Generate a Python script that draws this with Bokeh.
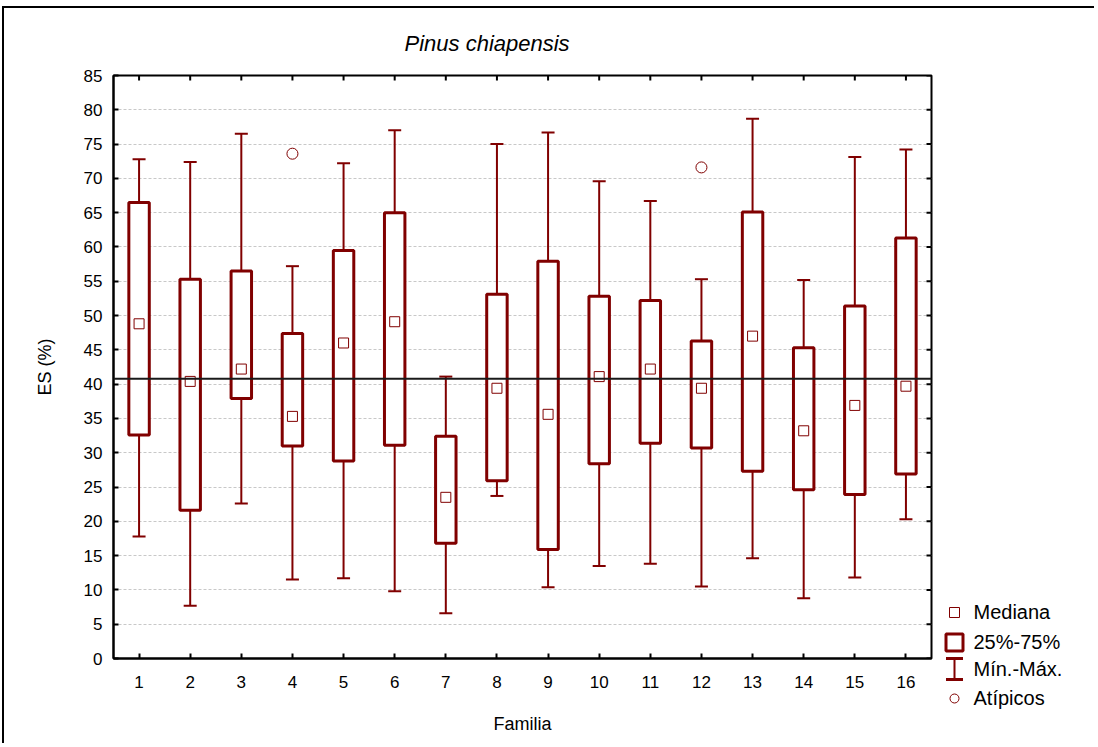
import math
from bokeh.plotting import figure
from bokeh.models import Range1d, FixedTicker, ColumnDataSource, Span
from bokeh.layouts import row, column
from bokeh.embed import file_html
from bokeh.resources import INLINE
from bokeh.core.properties import value

# ---------------- data ----------------
familias = list(range(1, 17))
maximo = [72.8, 72.4, 76.5, 57.2, 72.2, 77.0, 41.1, 75.0, 76.7, 69.6, 66.7, 55.3, 78.7, 55.2, 73.1, 74.2]
q3 = [66.5, 55.3, 56.5, 47.4, 59.5, 65.0, 32.4, 53.1, 57.9, 52.8, 52.2, 46.3, 65.1, 45.3, 51.4, 61.3]
mediana = [48.8, 40.4, 42.2, 35.3, 46.0, 49.1, 23.5, 39.4, 35.6, 41.1, 42.2, 39.4, 47.0, 33.2, 36.9, 39.7]
q1 = [32.6, 21.6, 37.9, 31.0, 28.8, 31.1, 16.8, 25.9, 15.9, 28.4, 31.4, 30.7, 27.3, 24.6, 23.9, 26.9]
minimo = [17.8, 7.7, 22.6, 11.5, 11.7, 9.8, 6.6, 23.7, 10.4, 13.5, 13.8, 10.5, 14.6, 8.8, 11.8, 20.3]
atipicos_familia = [4, 12]
atipicos_valor = [73.6, 71.6]
media_general = 40.8
y_ticks = list(range(0, 90, 5))
legend_labels = ["Mediana", "25%-75%", "Mín.-Máx.", "Atípicos"]

RED = "#800000"
FONT = "Liberation Sans"
X0, X1 = 0.5, 16.5
Y0, Y1 = 0, 85

# ---------------- main plot ----------------
P_W, P_H = 930, 735
p = figure(width=P_W, height=P_H, x_range=Range1d(X0, X1), y_range=Range1d(Y0, Y1),
           output_backend="svg", toolbar_location=None,
           min_border_left=109, min_border_right=3, min_border_top=67, min_border_bottom=85,
           title="Pinus chiapensis")
p.background_fill_color = "white"
p.border_fill_color = "white"
p.outline_line_color = "black"
p.outline_line_width = 2

p.title.text_font = FONT
p.title.text_font_size = "22px"
p.title.text_font_style = "italic"
p.title.text_font_style = "italic"
p.title.text_color = "black"
p.title.align = "left"
p.title.offset = 291
p.title.standoff = 39

xa = p.xaxis[0]
ya = p.yaxis[0]
xa.ticker = FixedTicker(ticks=familias)
ya.ticker = FixedTicker(ticks=y_ticks)
for ax in (xa, ya):
    ax.major_tick_in = 5
    ax.major_tick_out = 0
    ax.minor_tick_line_color = None
    ax.axis_line_width = 2
    ax.axis_line_color = "black"
    ax.major_tick_line_width = 2
    ax.major_tick_line_color = "black"
    ax.major_label_text_font = FONT
    ax.major_label_text_font_size = "17px"
    ax.major_label_text_color = "black"
    ax.axis_label_text_font = FONT
    ax.axis_label_text_font_size = "18px"
    ax.axis_label_text_font_style = "normal"
    ax.axis_label_text_color = "black"
xa.axis_label = "Familia"
ya.axis_label = "ES (%)"
xa.major_label_standoff = 17
xa.axis_label_standoff = 23
ya.major_label_standoff = 11
ya.axis_label_standoff = 26

p.xgrid.grid_line_color = None
p.ygrid.grid_line_color = "#c8c8c8"
p.ygrid.grid_line_dash = "3 2"
p.ygrid.grid_line_width = 1

# inward ticks on the top and right edges of the frame (half of each dash is clipped)
p.scatter(x=familias, y=[Y1] * len(familias), marker="dash", angle=math.pi / 2,
          size=10, line_color="black", line_width=2)
p.scatter(x=[X1] * len(y_ticks), y=y_ticks, marker="dash", size=10,
          line_color="black", line_width=2)

src = ColumnDataSource(dict(x=familias, maximo=maximo, q3=q3, mediana=mediana, q1=q1, minimo=minimo))
out_src = ColumnDataSource(dict(x=atipicos_familia, y=atipicos_valor))

p.segment(x0="x", y0="minimo", x1="x", y1="maximo", source=src, line_color=RED, line_width=2)
p.scatter(x="x", y="maximo", source=src, marker="dash", size=13, line_color=RED, line_width=2)
p.scatter(x="x", y="minimo", source=src, marker="dash", size=13, line_color=RED, line_width=2)
p.vbar(x="x", width=0.4, bottom="q1", top="q3", source=src, fill_color="white",
       line_color=RED, line_width=3)
p.add_layout(Span(location=media_general, dimension="width", line_color="#1a1a1a", line_width=2))
p.scatter(x="x", y="mediana", source=src, marker="square", size=10, fill_color="white",
          line_color=RED, line_width=1)
p.scatter(x="x", y="y", source=out_src, marker="circle", size=11, fill_color=None,
          line_color=RED, line_width=1)

# ---------------- legend panel ----------------
L_W = 160
q = figure(width=L_W, height=P_H, x_range=Range1d(0, L_W), y_range=Range1d(P_H, 0),
           output_backend="svg", toolbar_location=None,
           min_border_left=0, min_border_right=0, min_border_top=0, min_border_bottom=0)
q.axis.visible = False
q.grid.visible = False
q.outline_line_color = None
q.background_fill_color = "white"
q.border_fill_color = "white"

sym_x = 20
txt_x = 39
rows_y = [603, 633, 660, 689]

q.scatter(x=[sym_x], y=[rows_y[0] + 1], marker="square", size=10, fill_color="white",
          line_color=RED, line_width=1)
q.scatter(x=[sym_x], y=[rows_y[1] + 1], marker="square", size=17, fill_color="white",
          line_color=RED, line_width=3)
q.segment(x0=[sym_x], y0=[rows_y[2] - 10], x1=[sym_x], y1=[rows_y[2] + 11],
          line_color=RED, line_width=2)
q.scatter(x=[sym_x, sym_x], y=[rows_y[2] - 10, rows_y[2] + 11], marker="dash", size=17,
          line_color=RED, line_width=3)
q.scatter(x=[sym_x], y=[rows_y[3] + 1], marker="circle", size=9, fill_color=None,
          line_color=RED, line_width=1)
q.text(x=[txt_x] * 4, y=rows_y, text=legend_labels, text_baseline="middle",
       text_align="left", text_font=value(FONT), text_font_size="20px", text_color="black")

layout = row(p, column(q), styles={"border-left": "2px solid black",
                                   "border-top": "2px solid black",
                                   "margin-left": "2px", "margin-top": "6px"})

with open("out.html", "w") as f:
    f.write(file_html(layout, INLINE))
